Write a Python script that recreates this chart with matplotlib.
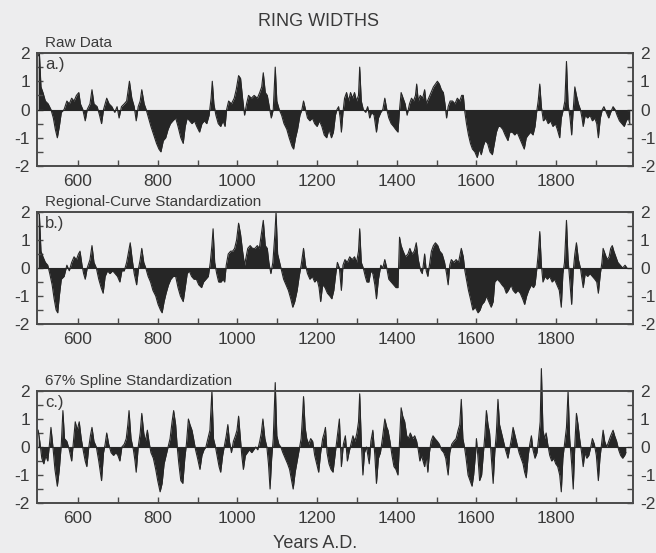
import matplotlib
matplotlib.use("Agg")
import matplotlib.pyplot as plt
import numpy as np

plt.rcParams["font.family"] = ["Liberation Sans", "DejaVu Sans"]
plt.rcParams["axes.unicode_minus"] = False

# ---- ring-width indices (years A.D., standardized units) ----
raw_years = [500, 503, 507, 512, 518, 525, 532, 538, 543, 548, 553, 558, 565, 572, 578, 584, 590, 596, 602, 606, 612, 618, 623, 630, 635, 640, 648, 654, 659, 664, 672, 678, 685, 692, 698, 703, 709, 716, 722, 729, 735, 741, 746, 751, 756, 760, 766, 771, 777, 783, 790, 797, 803, 808, 814, 820, 826, 832, 838, 845, 851, 858, 864, 869, 874, 880, 886, 892, 898, 905, 911, 917, 923, 929, 934, 937, 941, 946, 952, 958, 964, 969, 973, 978, 985, 992, 997, 1003, 1008, 1013, 1018, 1023, 1028, 1035, 1042, 1050, 1056, 1061, 1065, 1070, 1075, 1080, 1085, 1090, 1095, 1099, 1105, 1111, 1117, 1124, 1130, 1137, 1141, 1146, 1151, 1157, 1162, 1166, 1171, 1176, 1182, 1188, 1194, 1200, 1206, 1212, 1218, 1224, 1230, 1236, 1241, 1246, 1250, 1254, 1258, 1261, 1265, 1269, 1274, 1279, 1284, 1289, 1294, 1299, 1304, 1307, 1311, 1316, 1322, 1327, 1332, 1337, 1343, 1349, 1354, 1360, 1365, 1370, 1375, 1380, 1386, 1392, 1397, 1403, 1407, 1411, 1416, 1421, 1426, 1432, 1437, 1442, 1447, 1450, 1454, 1459, 1465, 1470, 1474, 1480, 1486, 1492, 1497, 1502, 1507, 1512, 1517, 1521, 1525, 1529, 1534, 1540, 1546, 1552, 1558, 1563, 1567, 1571, 1575, 1580, 1585, 1590, 1596, 1602, 1607, 1612, 1617, 1622, 1628, 1634, 1640, 1645, 1650, 1655, 1660, 1666, 1672, 1679, 1684, 1690, 1696, 1702, 1708, 1714, 1720, 1725, 1730, 1736, 1742, 1747, 1751, 1755, 1759, 1763, 1768, 1774, 1780, 1786, 1792, 1798, 1803, 1809, 1813, 1818, 1822, 1826, 1830, 1835, 1839, 1843, 1847, 1851, 1856, 1861, 1865, 1868, 1873, 1879, 1885, 1891, 1897, 1902, 1906, 1911, 1916, 1920, 1926, 1932, 1937, 1943, 1948, 1953, 1959, 1965, 1971, 1976, 1981, 1985]
raw_values = [1.9, 2.0, 0.8, 0.6, 0.3, 0.2, 0.0, -0.3, -0.7, -1.0, -0.6, -0.1, 0.0, 0.3, 0.2, 0.4, 0.3, 0.5, 0.6, 0.2, 0.0, -0.4, 0.0, 0.2, 0.7, 0.2, 0.1, -0.2, -0.5, 0.0, 0.4, 0.2, 0.1, -0.1, 0.1, -0.3, 0.1, 0.2, 0.3, 1.0, 0.4, 0.1, -0.4, 0.1, 0.3, 0.7, 0.2, 0.0, -0.3, -0.6, -0.9, -1.2, -1.4, -1.5, -1.1, -1.0, -0.7, -0.5, -0.4, -0.3, -0.6, -1.0, -1.2, -0.6, -0.3, -0.4, -0.5, -0.4, -0.6, -0.8, -0.5, -0.4, -0.5, -0.2, 0.4, 1.0, 0.2, -0.2, -0.5, -0.6, -0.4, -0.6, 0.0, 0.3, 0.2, 0.4, 0.7, 1.2, 1.1, 0.4, -0.2, 0.2, 0.5, 0.4, 0.5, 0.4, 0.6, 0.8, 1.3, 0.6, 0.5, 0.1, -0.3, 0.0, 1.5, 0.3, 0.0, -0.2, -0.5, -0.7, -1.0, -1.3, -1.4, -1.0, -0.7, -0.2, 0.0, 0.3, 0.0, -0.3, -0.4, -0.3, -0.5, -0.6, -0.4, -0.6, -0.9, -1.0, -0.7, -1.0, -0.8, -0.2, 0.0, 0.1, -0.3, -0.8, -0.1, 0.4, 0.6, 0.3, 0.6, 0.4, 0.6, 0.3, 0.5, 1.5, 0.3, 0.0, -0.1, 0.1, -0.3, -0.1, -0.2, -0.8, -0.3, -0.1, 0.0, 0.4, 0.0, -0.3, -0.5, -0.6, -0.7, -0.8, 0.0, 0.6, 0.4, 0.2, -0.2, 0.2, 0.4, 0.3, 0.5, 0.9, 0.3, 0.5, 0.4, 0.7, 0.2, 0.4, 0.6, 0.8, 0.9, 1.0, 0.9, 0.7, 0.6, 0.2, -0.3, 0.1, 0.3, 0.3, 0.2, 0.4, 0.3, 0.5, 0.5, -0.1, -0.5, -0.9, -1.2, -1.4, -1.5, -1.7, -1.4, -1.6, -1.3, -1.1, -1.2, -1.5, -1.6, -1.2, -0.8, -0.6, -0.6, -0.7, -0.9, -1.1, -0.8, -0.8, -0.9, -0.8, -1.0, -1.2, -1.4, -1.0, -0.9, -0.8, -0.9, -0.6, -0.1, 0.3, 0.9, 0.1, -0.4, -0.3, -0.5, -0.4, -0.6, -0.5, -0.7, -1.0, -0.3, 0.0, 0.3, 1.7, 0.2, -0.3, -0.9, 0.0, 0.8, 0.5, 0.2, 0.0, -0.3, -0.6, -0.2, -0.3, -0.2, -0.4, -0.3, -0.5, -1.0, -0.3, 0.0, 0.1, -0.1, -0.3, -0.1, 0.1, 0.0, -0.2, -0.4, -0.5, -0.6, -0.4, -0.3, -0.5]

rcs_years = [500, 503, 507, 512, 518, 524, 529, 535, 540, 545, 549, 553, 558, 565, 572, 578, 584, 590, 596, 601, 605, 610, 614, 618, 623, 630, 635, 640, 646, 652, 658, 663, 668, 674, 680, 687, 693, 699, 705, 710, 716, 722, 727, 731, 736, 741, 747, 752, 756, 760, 765, 770, 776, 782, 788, 795, 801, 807, 811, 816, 821, 827, 833, 839, 845, 851, 857, 864, 869, 874, 879, 885, 891, 897, 903, 910, 915, 921, 927, 932, 936, 939, 943, 948, 953, 959, 964, 968, 972, 977, 983, 988, 993, 998, 1003, 1008, 1013, 1018, 1022, 1026, 1032, 1038, 1044, 1050, 1055, 1060, 1065, 1070, 1075, 1079, 1084, 1089, 1094, 1097, 1101, 1106, 1111, 1116, 1122, 1128, 1134, 1139, 1144, 1150, 1155, 1160, 1166, 1171, 1176, 1182, 1188, 1194, 1200, 1205, 1209, 1214, 1220, 1226, 1232, 1237, 1242, 1247, 1251, 1256, 1261, 1265, 1270, 1276, 1282, 1288, 1294, 1299, 1304, 1307, 1311, 1316, 1321, 1325, 1330, 1335, 1340, 1345, 1349, 1354, 1360, 1365, 1370, 1375, 1380, 1386, 1392, 1398, 1403, 1407, 1411, 1416, 1422, 1428, 1433, 1438, 1444, 1449, 1454, 1460, 1464, 1470, 1474, 1478, 1483, 1487, 1492, 1497, 1503, 1508, 1514, 1520, 1525, 1529, 1533, 1537, 1543, 1549, 1555, 1562, 1567, 1571, 1576, 1580, 1585, 1591, 1597, 1604, 1609, 1614, 1620, 1625, 1631, 1637, 1642, 1646, 1652, 1659, 1664, 1670, 1675, 1680, 1687, 1692, 1698, 1704, 1710, 1716, 1721, 1726, 1731, 1738, 1743, 1747, 1751, 1755, 1759, 1763, 1767, 1772, 1778, 1784, 1790, 1796, 1802, 1808, 1813, 1817, 1821, 1826, 1830, 1834, 1839, 1843, 1847, 1851, 1856, 1861, 1864, 1868, 1873, 1879, 1885, 1891, 1897, 1902, 1906, 1911, 1915, 1918, 1923, 1928, 1933, 1937, 1941, 1945, 1950, 1955, 1961, 1967, 1973, 1978]
rcs_values = [2.0, 1.9, 0.6, 0.4, 0.2, 0.1, -0.2, -0.6, -1.1, -1.5, -1.6, -1.0, -0.4, -0.3, 0.1, -0.1, 0.2, 0.4, 0.3, 0.5, 0.6, 0.1, -0.2, -0.4, 0.0, 0.3, 0.8, 0.2, 0.0, -0.4, -0.7, -0.9, -0.3, -0.1, -0.2, -0.1, -0.2, -0.3, -0.5, -0.1, -0.1, 0.2, 0.6, 0.9, 0.3, -0.2, -0.6, 0.0, 0.3, 0.7, 0.2, 0.0, -0.3, -0.5, -0.8, -1.0, -1.3, -1.5, -1.6, -1.2, -0.9, -0.6, -0.4, -0.3, -0.3, -0.7, -1.0, -1.2, -0.7, -0.2, -0.1, -0.3, -0.4, -0.4, -0.6, -0.7, -0.5, -0.4, -0.3, 0.2, 0.8, 1.4, 0.2, -0.2, -0.5, -0.5, -0.4, -0.5, 0.1, 0.5, 0.6, 0.6, 0.7, 1.0, 1.6, 1.2, 0.6, 0.1, 0.4, 0.7, 0.8, 0.7, 0.7, 0.8, 0.7, 1.2, 1.7, 0.8, 0.7, 0.2, -0.2, 0.2, 1.2, 2.0, 0.5, 0.2, -0.1, -0.4, -0.6, -0.8, -1.1, -1.4, -1.2, -0.8, -0.3, 0.1, 0.7, 0.1, -0.2, -0.4, -0.3, -0.5, -0.4, -0.7, -1.2, -0.6, -0.7, -0.9, -1.0, -1.1, -0.8, -0.2, 0.2, 0.0, -0.8, 0.1, 0.3, 0.2, 0.4, 0.3, 0.4, 0.2, 0.6, 1.4, 0.2, 0.0, -0.3, -0.5, -0.5, -0.1, -0.2, -0.6, -1.1, -0.4, 0.1, 0.0, 0.3, 0.0, -0.4, -0.5, -0.6, -0.7, -0.7, 1.1, 0.8, 0.6, 0.4, 0.5, 0.7, 0.5, 0.6, 0.9, 0.3, -0.1, -0.2, 0.5, -0.1, -0.3, 0.2, 0.6, 0.8, 0.9, 0.8, 0.6, 0.5, 0.2, -0.2, -0.6, 0.1, 0.3, 0.2, 0.3, 0.2, 0.7, 0.4, -0.1, -0.5, -0.8, -1.1, -1.5, -1.4, -1.6, -1.5, -1.3, -1.2, -1.0, -1.2, -1.4, -1.2, -0.5, -0.4, -0.5, -0.6, -0.7, -0.9, -0.8, -0.6, -0.8, -0.9, -0.8, -0.9, -1.1, -1.3, -1.0, -0.8, -0.6, -0.7, -0.6, -0.1, 0.5, 1.3, 0.1, -0.5, -0.3, -0.4, -0.3, -0.5, -0.4, -0.6, -0.8, -1.4, -0.2, 0.2, 1.7, 0.3, -0.4, -1.3, -0.1, 0.5, 0.9, 0.3, 0.0, -0.3, -0.7, -0.2, -0.3, -0.2, -0.3, -0.4, -0.5, -0.9, -0.2, 0.2, 0.7, 0.5, 0.3, 0.4, 0.7, 0.8, 0.6, 0.4, 0.2, 0.1, 0.0, 0.1, 0.0]

spline_years = [500, 504, 509, 514, 519, 524, 529, 532, 537, 542, 548, 553, 558, 562, 566, 572, 578, 584, 589, 593, 598, 603, 608, 614, 618, 622, 627, 631, 635, 640, 646, 652, 656, 659, 664, 668, 672, 677, 683, 689, 695, 700, 705, 710, 716, 721, 725, 728, 733, 739, 743, 746, 751, 756, 760, 765, 769, 774, 778, 783, 789, 795, 800, 806, 811, 816, 821, 826, 831, 836, 840, 845, 849, 853, 858, 863, 868, 872, 877, 881, 886, 890, 895, 900, 906, 911, 916, 921, 926, 931, 936, 940, 945, 950, 954, 958, 963, 968, 972, 976, 980, 985, 990, 995, 999, 1003, 1007, 1011, 1015, 1020, 1025, 1030, 1036, 1041, 1046, 1051, 1056, 1060, 1064, 1069, 1074, 1078, 1082, 1086, 1090, 1095, 1099, 1104, 1109, 1114, 1120, 1126, 1131, 1136, 1140, 1145, 1150, 1155, 1160, 1163, 1166, 1170, 1174, 1179, 1184, 1189, 1194, 1199, 1204, 1209, 1214, 1218, 1221, 1225, 1230, 1235, 1240, 1245, 1250, 1256, 1261, 1266, 1271, 1276, 1280, 1290, 1295, 1300, 1304, 1307, 1311, 1315, 1319, 1324, 1331, 1335, 1340, 1345, 1349, 1354, 1359, 1364, 1370, 1375, 1378, 1383, 1388, 1393, 1398, 1403, 1407, 1411, 1415, 1420, 1425, 1429, 1434, 1440, 1445, 1450, 1454, 1458, 1462, 1466, 1470, 1474, 1478, 1482, 1486, 1491, 1496, 1502, 1507, 1512, 1518, 1523, 1529, 1533, 1538, 1543, 1549, 1554, 1558, 1562, 1566, 1570, 1574, 1579, 1584, 1589, 1593, 1598, 1600, 1604, 1608, 1613, 1617, 1621, 1625, 1629, 1633, 1637, 1642, 1646, 1650, 1654, 1658, 1663, 1668, 1673, 1679, 1684, 1688, 1692, 1697, 1702, 1707, 1712, 1717, 1721, 1725, 1730, 1734, 1738, 1742, 1747, 1752, 1756, 1760, 1763, 1767, 1771, 1775, 1779, 1784, 1789, 1794, 1799, 1804, 1809, 1813, 1817, 1821, 1826, 1830, 1834, 1839, 1843, 1847, 1851, 1855, 1859, 1864, 1868, 1872, 1877, 1882, 1887, 1891, 1896, 1901, 1906, 1910, 1914, 1918, 1922, 1927, 1932, 1937, 1943, 1947, 1952, 1957, 1962, 1967, 1972, 1975]
spline_values = [0.6, 0.2, -0.4, -0.6, -0.3, -0.5, 0.2, 0.7, 0.0, -0.8, -1.4, -0.8, 0.1, 1.3, 0.3, 0.2, -0.1, -0.5, 0.3, 0.9, 0.6, 0.9, 0.3, -0.2, -0.5, -0.7, 0.0, 0.4, 0.7, 0.2, 0.0, -0.5, -0.9, -1.2, -0.2, 0.1, 0.5, 0.1, -0.2, -0.3, -0.2, -0.3, -0.5, 0.0, 0.1, 0.3, 0.8, 1.3, 0.3, -0.1, -0.5, -0.9, 0.0, 0.5, 1.2, 0.5, 0.2, 0.6, 0.2, -0.2, -0.4, -0.8, -1.2, -1.6, -1.3, -0.6, -0.3, 0.0, 0.3, 0.9, 1.3, 0.8, 0.0, -0.6, -1.2, -1.3, -0.4, 0.1, 1.0, 0.8, 0.6, 0.3, -0.1, -0.4, -0.8, -0.3, -0.1, 0.0, 0.3, 0.6, 2.0, 0.3, 0.0, -0.4, -0.7, -0.9, -0.3, 0.1, 0.4, 0.8, 0.2, -0.2, 0.2, 0.4, 0.6, 1.1, 0.4, -0.3, -0.8, -0.3, -0.2, -0.1, -0.2, -0.1, 0.0, -0.1, 0.2, 0.5, 1.0, 0.3, 0.0, -0.6, -1.5, -0.4, 0.3, 2.3, 0.4, 0.1, 0.0, -0.2, -0.4, -0.6, -0.8, -1.2, -1.5, -0.9, -0.5, -0.1, 0.3, 1.0, 1.8, 0.7, 0.3, 0.1, 0.3, 0.2, -0.3, -0.6, -0.9, -0.2, 0.3, 0.5, 0.7, -0.2, -0.6, -0.8, -0.9, -0.3, 0.3, 1.0, -0.7, 0.1, 0.4, -0.5, -0.2, 0.4, 0.2, 0.5, 0.9, 1.9, 0.2, -1.0, -0.2, 0.0, -0.6, 0.2, 0.6, -0.3, -1.3, -0.4, -0.2, 0.3, 1.0, 0.7, 0.6, 0.2, -0.3, -0.7, -0.8, -1.0, 0.2, 1.4, 1.1, 0.9, 0.4, 0.3, 0.5, 0.3, 0.4, 0.2, -0.1, -0.5, -0.3, -0.5, -0.7, -0.3, -0.9, -0.2, 0.2, 0.4, 0.3, 0.2, 0.1, -0.1, -0.2, -0.4, -1.0, -0.2, 0.1, 0.2, 0.3, 0.6, 0.8, 1.7, 0.3, 0.0, -0.4, -1.0, -1.2, -1.4, -1.0, -0.2, 0.3, -0.4, -1.2, -1.0, -0.3, 0.4, 1.3, 0.8, 0.5, -0.3, -1.3, -0.2, 0.5, 1.7, 0.8, 0.5, 0.2, -0.1, -0.4, 0.0, 0.3, 0.7, 0.4, 0.1, -0.2, -0.4, -0.6, -0.9, -1.1, -0.3, 0.1, 0.4, -0.1, -0.4, -0.2, 0.3, 0.9, 2.8, 0.6, 0.3, 0.5, 0.1, -0.3, -0.5, -0.4, -0.6, -0.7, -1.0, -1.6, -0.4, 0.1, 0.7, 2.0, 0.3, -0.6, -1.5, 0.1, 1.2, 0.8, 0.3, -0.2, -0.7, -0.2, -0.4, -0.3, 0.0, 0.3, 0.1, -0.3, -1.2, -0.4, 0.1, 0.6, 0.2, 0.0, 0.2, 0.4, 0.6, 0.4, 0.2, -0.1, -0.3, -0.4, -0.3, -0.2]

panel_titles = ["Raw Data", "Regional-Curve Standardization", "67% Spline Standardization"]
panel_tags = ["a.)", "b.)", "c.)"]
x_ticks = [600, 800, 1000, 1200, 1400, 1600, 1800]
y_ticks = [-2, -1, 0, 1, 2]

BG = "#ededee"
INK = "#262626"
FRAME = "#4a4a4a"
TXT = "#3a3a3a"

W, H = 656, 553
fig = plt.figure(figsize=(W / 100, H / 100), dpi=100, facecolor=BG)


def fx(px):
    return px / W


def fy(py):
    return 1 - py / H


# panel boxes in pixels: (top, bottom)
boxes = [(53, 166), (212, 324), (391, 503)]
left_px, right_px = 37, 633
series = [(raw_years, raw_values), (rcs_years, rcs_values), (spline_years, spline_values)]

for i, ((top, bot), (yrs, vals)) in enumerate(zip(boxes, series)):
    ax = fig.add_axes([fx(left_px), fy(bot), fx(right_px - left_px), (bot - top) / H])
    ax.set_facecolor(BG)
    yrs = np.asarray(yrs, dtype=float)
    vals = np.asarray(vals, dtype=float)
    ax.fill_between(yrs, 0, vals, color=INK, lw=0, interpolate=True, clip_on=False)
    ax.plot(yrs, vals, color=INK, lw=0.8, clip_on=False)
    ax.axhline(0, color=INK, lw=0.8)
    ax.set_xlim(497, 1993)
    ax.set_ylim(-2, 2)
    ax.set_xticks(x_ticks)
    ax.set_xticks(np.arange(700, 2000, 200), minor=True)
    ax.set_yticks(y_ticks)
    ax.set_yticks(np.arange(-1.5, 2.0, 1.0), minor=True)
    ax.tick_params(which="both", direction="in", top=False, right=True,
                   labelright=True, colors=FRAME, labelcolor=TXT, width=1.0,
                   length=4)
    ax.tick_params(which="major", labelsize=12.5)
    ax.tick_params(axis="x", which="major", pad=6)
    ax.tick_params(axis="y", which="major", pad=5)
    for s in ax.spines.values():
        s.set_color(FRAME)
        s.set_linewidth(1.4)
    ax.text(0.014, 0.9, panel_tags[i], transform=ax.transAxes, fontsize=12,
            color=TXT, ha="left", va="center")
    fig.text(fx(45), fy(top - 10), panel_titles[i], fontsize=11, color=TXT,
             ha="left", va="center")

fig.text(fx(318), fy(22), "RING WIDTHS", fontsize=13, color=TXT, ha="center", va="center")
fig.text(fx(315), fy(543), "Years A.D.", fontsize=13, color=TXT, ha="center", va="center")

fig.savefig("out.png", dpi=100, facecolor=BG)
